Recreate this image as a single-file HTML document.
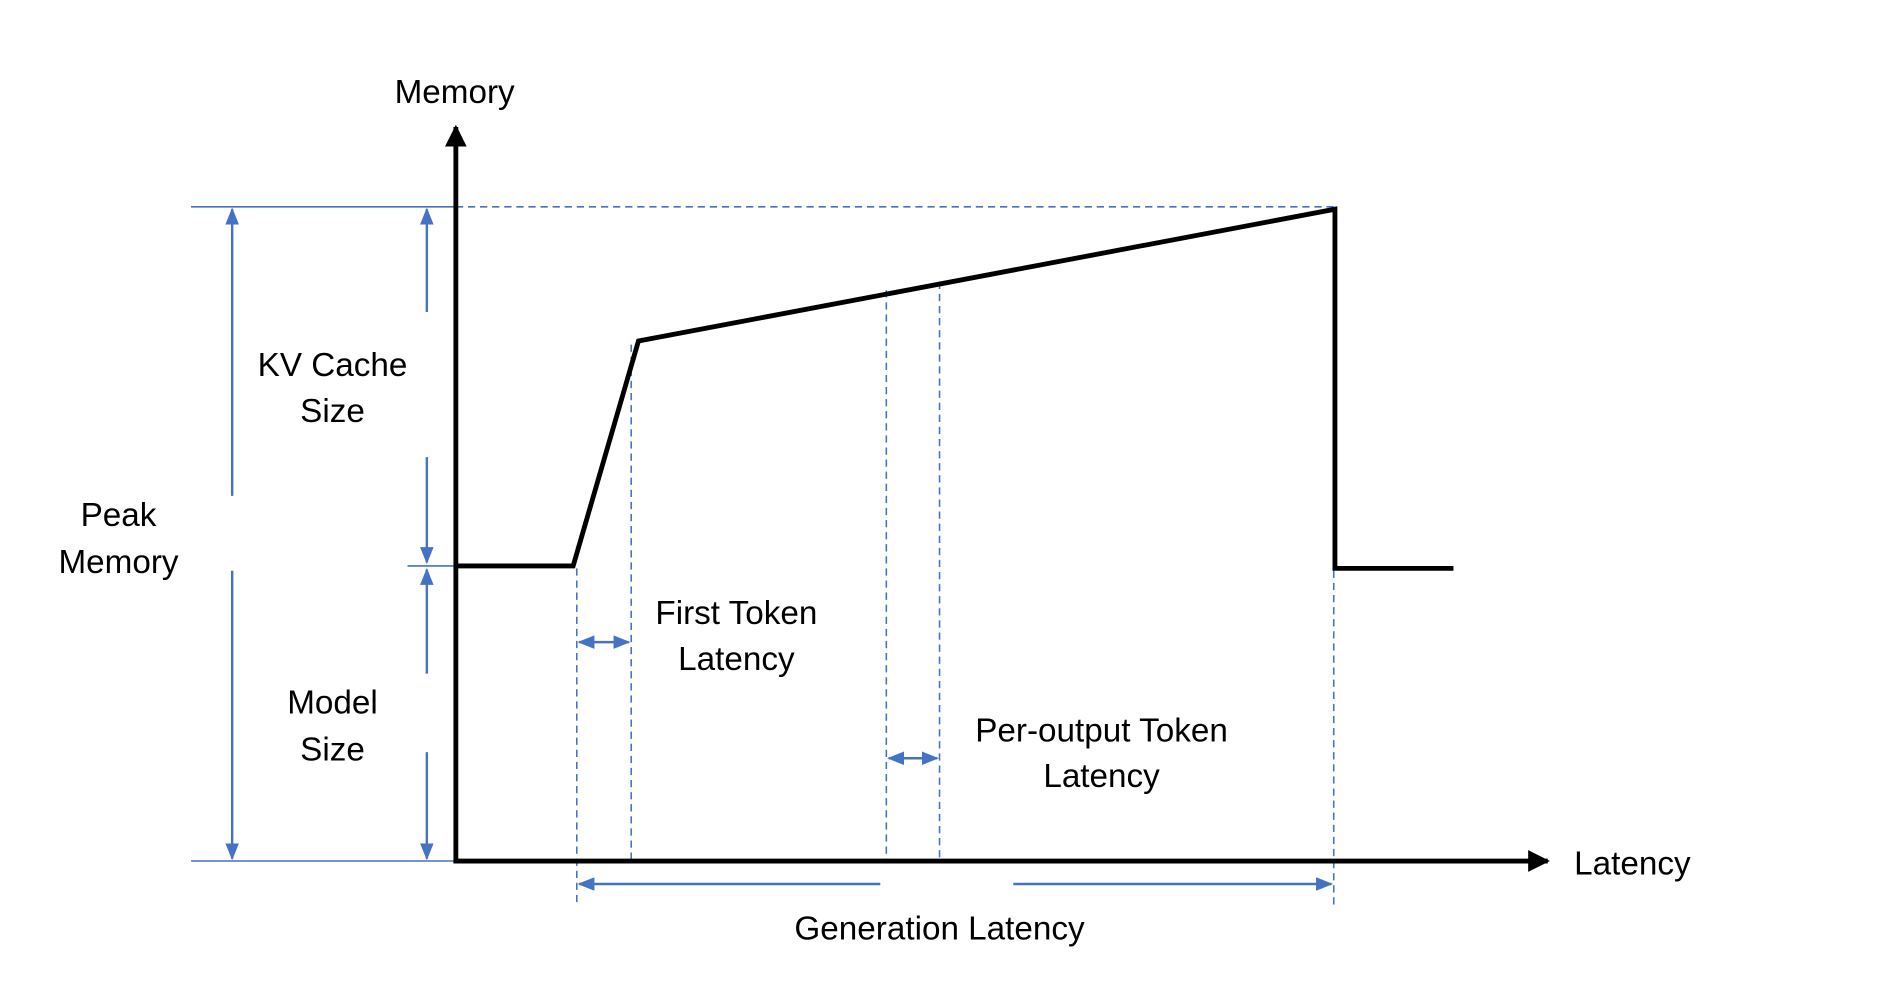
<!DOCTYPE html>
<html><head><style>html,body{margin:0;padding:0;background:#fff}svg{display:block}</style></head>
<body>
<svg width="1896" height="988" viewBox="0 0 1568 817" preserveAspectRatio="none" xmlns="http://www.w3.org/2000/svg">
<defs>
<marker id="bh" viewBox="0 0 10 10" refX="9" refY="5" markerWidth="7" markerHeight="7" orient="auto-start-reverse"><path d="M0,1 L10,5 L0,9 z" fill="#4472C4"/></marker>
<marker id="kh" viewBox="0 0 10 10" refX="9" refY="5" markerWidth="4.5" markerHeight="4.5" orient="auto"><path d="M0,0 L10,5 L0,10 z" fill="#000"/></marker>
</defs>
<g stroke="#4472C4" stroke-width="1.3" fill="none">
<line x1="158" y1="171" x2="377" y2="171"/>
<line x1="337" y1="468" x2="377" y2="468"/>
<line x1="158" y1="712" x2="377" y2="712"/>
<g stroke-dasharray="6,4">
<line x1="377" y1="171" x2="1104" y2="171"/>
<line x1="477" y1="470" x2="477" y2="748"/>
<line x1="522" y1="285" x2="522" y2="712"/>
<line x1="733" y1="240" x2="733" y2="712"/>
<line x1="777" y1="233" x2="777" y2="712"/>
<line x1="1103" y1="472" x2="1103" y2="748"/>
</g>
<g stroke-width="2" marker-end="url(#bh)">
<line x1="192" y1="410" x2="192" y2="173"/>
<line x1="192" y1="472" x2="192" y2="710"/>
<line x1="353" y1="258" x2="353" y2="173"/>
<line x1="353" y1="378" x2="353" y2="465"/>
<line x1="353" y1="557" x2="353" y2="471"/>
<line x1="353" y1="622" x2="353" y2="710"/>
<line x1="728" y1="731" x2="479" y2="731"/>
<line x1="838" y1="731" x2="1101" y2="731"/>
<line x1="479" y1="531" x2="520" y2="531" marker-start="url(#bh)"/>
<line x1="735" y1="627" x2="775" y2="627" marker-start="url(#bh)"/>
</g>
</g>
<g stroke="#000" stroke-width="4" fill="none">
<line x1="377" y1="714" x2="377" y2="105" marker-end="url(#kh)"/>
<line x1="375" y1="712" x2="1280" y2="712" marker-end="url(#kh)"/>
<polyline points="377,468 474,468 528,282 1104,173 1104,470 1202,470" stroke-linejoin="miter"/>
</g>
<g font-family="Liberation Sans, sans-serif" font-size="27.5" fill="#000" text-anchor="middle">
<text x="376" y="85">Memory</text>
<text x="1350" y="723">Latency</text>
<text x="275" y="311">KV Cache</text>
<text x="275" y="349">Size</text>
<text x="98" y="435">Peak</text>
<text x="98" y="474">Memory</text>
<text x="275" y="590">Model</text>
<text x="275" y="629">Size</text>
<text x="609" y="516">First Token</text>
<text x="609" y="554">Latency</text>
<text x="911" y="613">Per-output Token</text>
<text x="911" y="651">Latency</text>
<text x="777" y="777">Generation Latency</text>
</g>
</svg>
</body></html>
